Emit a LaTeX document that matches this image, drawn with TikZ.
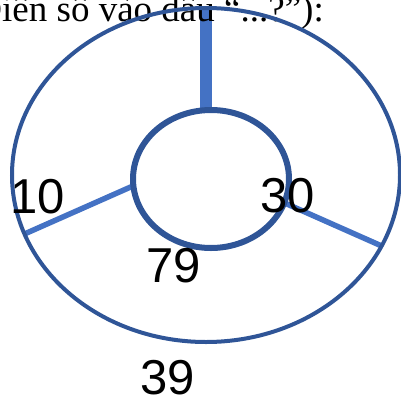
\documentclass[tikz,border=0pt]{standalone}
\usepackage{fontspec}
\setmainfont{Liberation Serif}
\newfontfamily\numfont{Liberation Sans}
\usepackage{xcolor}
\usetikzlibrary{positioning,shapes.geometric,backgrounds}
\definecolor{ringblue}{HTML}{2F5597}
\definecolor{spokeblue}{HTML}{4472C4}

\begin{document}
\begin{tikzpicture}[x=1pt, y=-1pt, ring/.style={draw=ringblue, ellipse, inner sep=0pt, outer sep=0pt}, spoke/.style={draw=spokeblue, line width=5.5pt}, num/.style={font=\numfont\fontsize{49}{49}\selectfont, inner sep=0pt, anchor=base}]
\useasboundingbox (0,0) rectangle (401,399);
\node[font=\fontsize{37}{37}\selectfont, inner sep=0pt, anchor=base west] (title) at (2,21) {\llap{(Đ}iền số vào dấu “...?”):};
\node[ring, line width=4pt, minimum width=388pt, minimum height=334pt] (outer) at (206,175) {};
\node[ring, line width=6pt, minimum width=156pt, minimum height=138pt] (inner) at (211,179) {};
\begin{scope}[on background layer]
\draw[spoke, line width=12pt] (outer.90) -- (outer.90 |- inner.north);
\draw[spoke] (outer.198) -- (inner.185);
\draw[spoke] (outer.338) -- (inner.342);
\end{scope}
\node[num] (n10) at (38,213) {10};
\node[num] (n30) at (288,212) {30};
\node[num] (n79) at (174,282) {79};
\node[num] (n39) at (168,394) {39};
\end{tikzpicture}
\end{document}
